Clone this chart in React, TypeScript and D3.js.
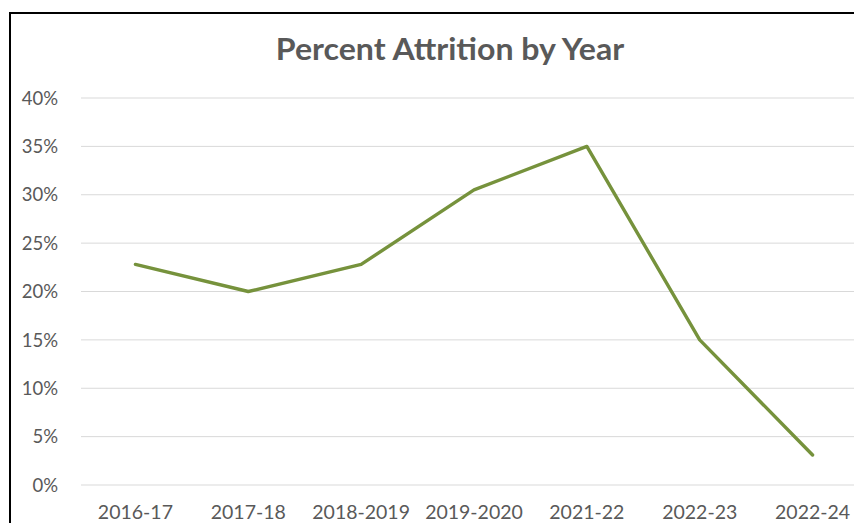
import React from "react";
import * as d3 from "d3";

const categories = ["2016-17", "2017-18", "2018-2019", "2019-2020", "2021-22", "2022-23", "2022-24"];
const attrition = [22.8, 20.0, 22.8, 30.5, 35.0, 15.0, 3.1];
const yTicks = [0, 5, 10, 15, 20, 25, 30, 35, 40];
const title = "Percent Attrition by Year";

const W = 854;
const H = 523;
const plot = { left: 79, right: 869, top: 98, bottom: 485 };
const FONT = "Lato, 'Open Sans', sans-serif";

export default function App() {
  const x = d3.scalePoint<string>().domain(categories).range([plot.left, plot.right]).padding(0.5);
  const y = d3.scaleLinear().domain([0, 40]).range([plot.bottom, plot.top]);
  const line = d3
    .line<number>()
    .x((_, i) => x(categories[i]) as number)
    .y((d) => y(d));

  return (
    <svg width={W} height={H} style={{ display: "block", position: "absolute", left: 0, top: 0, background: "#fff" }}>
      <rect x={0} y={0} width={W} height={H} fill="#fff" />
      {yTicks.map((t) => (
        <g key={t}>
          <line x1={81} x2={W} y1={y(t)} y2={y(t)} stroke="#d9d9d9" strokeWidth={1} />
          <text
            x={58}
            y={y(t)}
            dy="0.36em"
            textAnchor="end"
            fontFamily={FONT}
            fontSize={18.5}
            fill="#595959"
          >
            {t}%
          </text>
        </g>
      ))}
      {categories.map((c) => (
        <text key={c} x={x(c)} y={519} textAnchor="middle" fontFamily={FONT} fontSize={19.5} fill="#595959">
          {c}
        </text>
      ))}
      <path d={line(attrition) || ""} fill="none" stroke="#76923c" strokeWidth={3.4} strokeLinejoin="round" strokeLinecap="round" />
      <text
        transform={`translate(450,60) scale(1.07,1)`}
        textAnchor="middle"
        fontFamily={FONT}
        fontWeight="bold"
        fontSize={30}
        fill="#595959"
      >
        {title}
      </text>
      <line x1={10} x2={W} y1={13} y2={13} stroke="#000" strokeWidth={2} />
      <line x1={10} x2={10} y1={12} y2={H} stroke="#000" strokeWidth={2} />
    </svg>
  );
}
